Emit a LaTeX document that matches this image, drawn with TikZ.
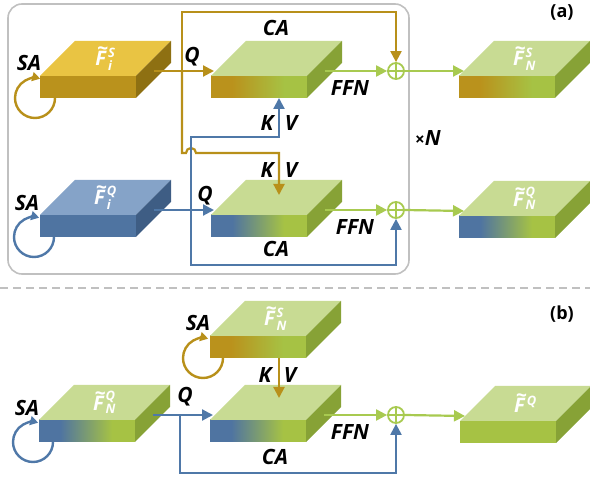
\documentclass[tikz,border=0pt]{standalone}
\usepackage{fontspec}
\setmainfont{Open Sans}
\usetikzlibrary{arrows.meta}

\definecolor{goldtop}{HTML}{E9C443}
\definecolor{goldfront}{HTML}{BA921C}
\definecolor{goldside}{HTML}{8E7012}
\definecolor{bluetop}{HTML}{85A3C8}
\definecolor{bluefront}{HTML}{4F74A1}
\definecolor{blueside}{HTML}{3E5D84}
\definecolor{greentop}{HTML}{C8DB93}
\definecolor{greenfront}{HTML}{A6C244}
\definecolor{greenside}{HTML}{87A236}
\definecolor{goldline}{HTML}{B8901A}
\definecolor{blueline}{HTML}{4F78A8}
\definecolor{greenline}{HTML}{A8CA50}
\definecolor{framegray}{HTML}{C0C0C0}

\pgfdeclarehorizontalshading{goldgreen}{100bp}{color(0bp)=(goldfront); color(36bp)=(goldfront); color(63bp)=(greenfront); color(100bp)=(greenfront)}
\pgfdeclarehorizontalshading{bluegreen}{100bp}{color(0bp)=(bluefront); color(36bp)=(bluefront); color(63bp)=(greenfront); color(100bp)=(greenfront)}

% one feature slab: front face is the node, top and side drawn on it
\newcommand{\slab}[5]{%
  \node[slabfront, #3] (#1) at (#2) {};
  \fill[#4] (#1.north west) -- ++(35,-35) -- ++(96,0) -- (#1.north east) -- cycle;
  \fill[#5] (#1.north east) -- ++(35,-35) -- ++(0,22) -- (#1.south east) -- cycle;
}
\newcommand{\tilF}{\makebox[0pt][l]{\hspace{0.08em}\raisebox{0.5em}{\textasciitilde}}F\kern0.1em}
\newcommand{\ftil}[2]{\tilF$^{\mbox{\fontsize{13}{13}\selectfont #1}}_{\mbox{\fontsize{13}{13}\selectfont #2}}$}

\begin{document}
\begin{tikzpicture}[
  x=1pt, y=-1pt,
  slabfront/.style={rectangle, minimum width=96pt, minimum height=22pt,
                    inner sep=0pt, outer sep=0pt},
  flabel/.style={text=white, font=\fontsize{20}{20}\selectfont\bfseries\itshape,
                 inner sep=0pt},
  lbl/.style={font=\fontsize{21}{21}\selectfont\bfseries\itshape, inner sep=0pt},
  tag/.style={font=\fontsize{18}{18}\selectfont\bfseries, inner sep=0pt},
  goldarrow/.style={draw=goldline, line width=2.2pt, -{Triangle[length=11pt,width=11pt]}},
  bluearrow/.style={draw=blueline, line width=2.2pt, -{Triangle[length=11pt,width=11pt]}},
  greenarrow/.style={draw=greenline, line width=2.2pt, -{Triangle[length=11pt,width=11pt]}},
  goldloop/.style={draw=goldline, line width=2.4pt, -{Triangle[length=8pt,width=9pt]}},
  blueloop/.style={draw=blueline, line width=2.4pt, -{Triangle[length=8pt,width=9pt]}},
  addop/.style={circle, draw=greenline, line width=1.8pt, fill=white,
                minimum size=16pt, inner sep=0pt,
                path picture={\draw[greenline, line width=1.8pt]
                  (path picture bounding box.north) -- (path picture bounding box.south)
                  (path picture bounding box.west) -- (path picture bounding box.east);}},
  frame/.style={draw=framegray, line width=1.6pt, rounded corners=14pt},
  divider/.style={draw=framegray, line width=1.6pt, dash pattern=on 8pt off 5pt}
]
\useasboundingbox (0,0) rectangle (590,478);

%% (a) stacked blocks
\draw[frame] (8,4) rectangle (409,274);

\slab{fis}{88,87}{fill=goldfront}{goldtop}{goldside}
\slab{ca1}{259,87}{shade, shading=goldgreen}{greentop}{greenside}
\slab{fns}{507,87}{shade, shading=goldgreen}{greentop}{greenside}
\slab{fiq}{88,226}{fill=bluefront}{bluetop}{blueside}
\slab{ca2}{259,226}{shade, shading=bluegreen}{greentop}{greenside}
\slab{fnq}{507,227}{shade, shading=bluegreen}{greentop}{greenside}

\node[flabel] (fis-l) at ([shift={(17.5,-17.5)}]fis.north) {\ftil{S}{i}};
\node[flabel] (fiq-l) at ([shift={(17.5,-17.5)}]fiq.north) {\ftil{Q}{i}};
\node[flabel] (fns-l) at ([shift={(17.5,-17.5)}]fns.north) {\ftil{S}{N}};
\node[flabel] (fnq-l) at ([shift={(17.5,-17.5)}]fnq.north) {\ftil{Q}{N}};

\node[addop] (plus1) at (396,71) {};
\node[addop] (plus2) at (396,210) {};

\coordinate (br1) at (182,71);
\coordinate (br2) at (191,210);
\coordinate (hop) at (191,153);

%% support branch (gold)
\draw[goldarrow] ([shift={(18,-16)}]fis.east) -- ([shift={(3,-5)}]ca1.north west);
\draw[goldarrow] (br1) -- ++(0,-59) -| (plus1.north);
\draw[goldarrow] (br1) |- ([xshift=-5pt]hop) arc[start angle=180, end angle=0, radius=5pt]
  -| ([shift={(20,-20)}]ca2.north);

%% query branch (blue)
\draw[bluearrow] ([shift={(18,-16)}]fiq.east) -- ([shift={(3,-5)}]ca2.north west);
\draw[bluearrow] (br2) -- ++(0,-73) -| ([xshift=20pt]ca1.south);
\draw[bluearrow] (br2) -- ++(0,55) -| (plus2.south);

%% FFN and outputs
\draw[greenarrow] ([shift={(18,-16)}]ca1.east) -- (plus1.west);
\draw[greenarrow] (plus1.east) -- ([shift={(5,-5)}]fns.north west);
\draw[greenarrow] ([shift={(18,-16)}]ca2.east) -- (plus2.west);
\draw[greenarrow] (plus2.east) -- ([shift={(5,-5)}]fnq.north west);

\draw[goldloop] ([xshift=15pt]fis.south west) arc[start angle=0, end angle=-285, radius=20pt];
\draw[blueloop] ([xshift=14pt]fiq.south west) arc[start angle=0, end angle=-285, radius=20pt];

\node[lbl] (sa1) at (29,63) {SA};
\node[lbl] (q1) at (192,57) {Q};
\node[lbl] (ca1-t) at (276,28) {CA};
\node[lbl] (ffn1) at (350,88) {FFN};
\node[lbl] (k1) at (267,123) {K};
\node[lbl] (v1) at (291,123) {V};
\node[lbl] (k2) at (267,170) {K};
\node[lbl] (v2) at (291,170) {V};
\node[lbl] (sa2) at (27,203) {SA};
\node[lbl] (q2) at (205,196) {Q};
\node[lbl] (ffn2) at (355,227) {FFN};
\node[lbl] (ca2-t) at (276,249) {CA};
\node[lbl] (times-n) at (428,138) {{\normalfont\bfseries\fontsize{17}{17}\selectfont ×}N};
\node[tag] (tag-a) at (562,13) {(a)};

\draw[divider] (0,288) -- (590,288);

%% (b) single block
\slab{fnqb}{87,431}{shade, shading=bluegreen}{greentop}{greenside}
\slab{fnsb}{258,347}{shade, shading=goldgreen}{greentop}{greenside}
\slab{cab}{258,431}{shade, shading=bluegreen}{greentop}{greenside}
\slab{fq}{508,432}{fill=greenfront}{greentop}{greenside}

\node[flabel] (fnqb-l) at ([shift={(17.5,-17.5)}]fnqb.north) {\ftil{Q}{N}};
\node[flabel] (fnsb-l) at ([shift={(17.5,-17.5)}]fnsb.north) {\ftil{S}{N}};
\node[flabel] (fq-l) at ([shift={(17.5,-17.5)}]fq.north) {\tilF$^{\mbox{\fontsize{13}{13}\selectfont Q}}$};

\node[addop] (plus3) at (396,415) {};
\coordinate (br3) at (180,415);

\draw[bluearrow] ([shift={(18,-16)}]fnqb.east) -- ([shift={(3,-5)}]cab.north west);
\draw[bluearrow] (br3) -- ++(0,58) -| (plus3.south);
\draw[goldarrow] ([xshift=21pt]fnsb.south) -- ([shift={(21,-22)}]cab.north);
\draw[greenarrow] ([shift={(18,-16)}]cab.east) -- (plus3.west);
\draw[greenarrow] (plus3.east) -- ([shift={(5,-5)}]fq.north west);

\draw[blueloop] ([xshift=14pt]fnqb.south west) arc[start angle=0, end angle=-285, radius=20pt];
\draw[goldloop] ([xshift=13pt]fnsb.south west) arc[start angle=0, end angle=-285, radius=20pt];

\node[lbl] (sa3) at (198,323) {SA};
\node[lbl] (sa4) at (27,408) {SA};
\node[lbl] (q3) at (185,397) {Q};
\node[lbl] (k3) at (265,375) {K};
\node[lbl] (v3) at (290,375) {V};
\node[lbl] (ffn3) at (350,432) {FFN};
\node[lbl] (ca3-t) at (275,457) {CA};
\node[tag] (tag-b) at (562,314) {(b)};

\end{tikzpicture}
\end{document}
